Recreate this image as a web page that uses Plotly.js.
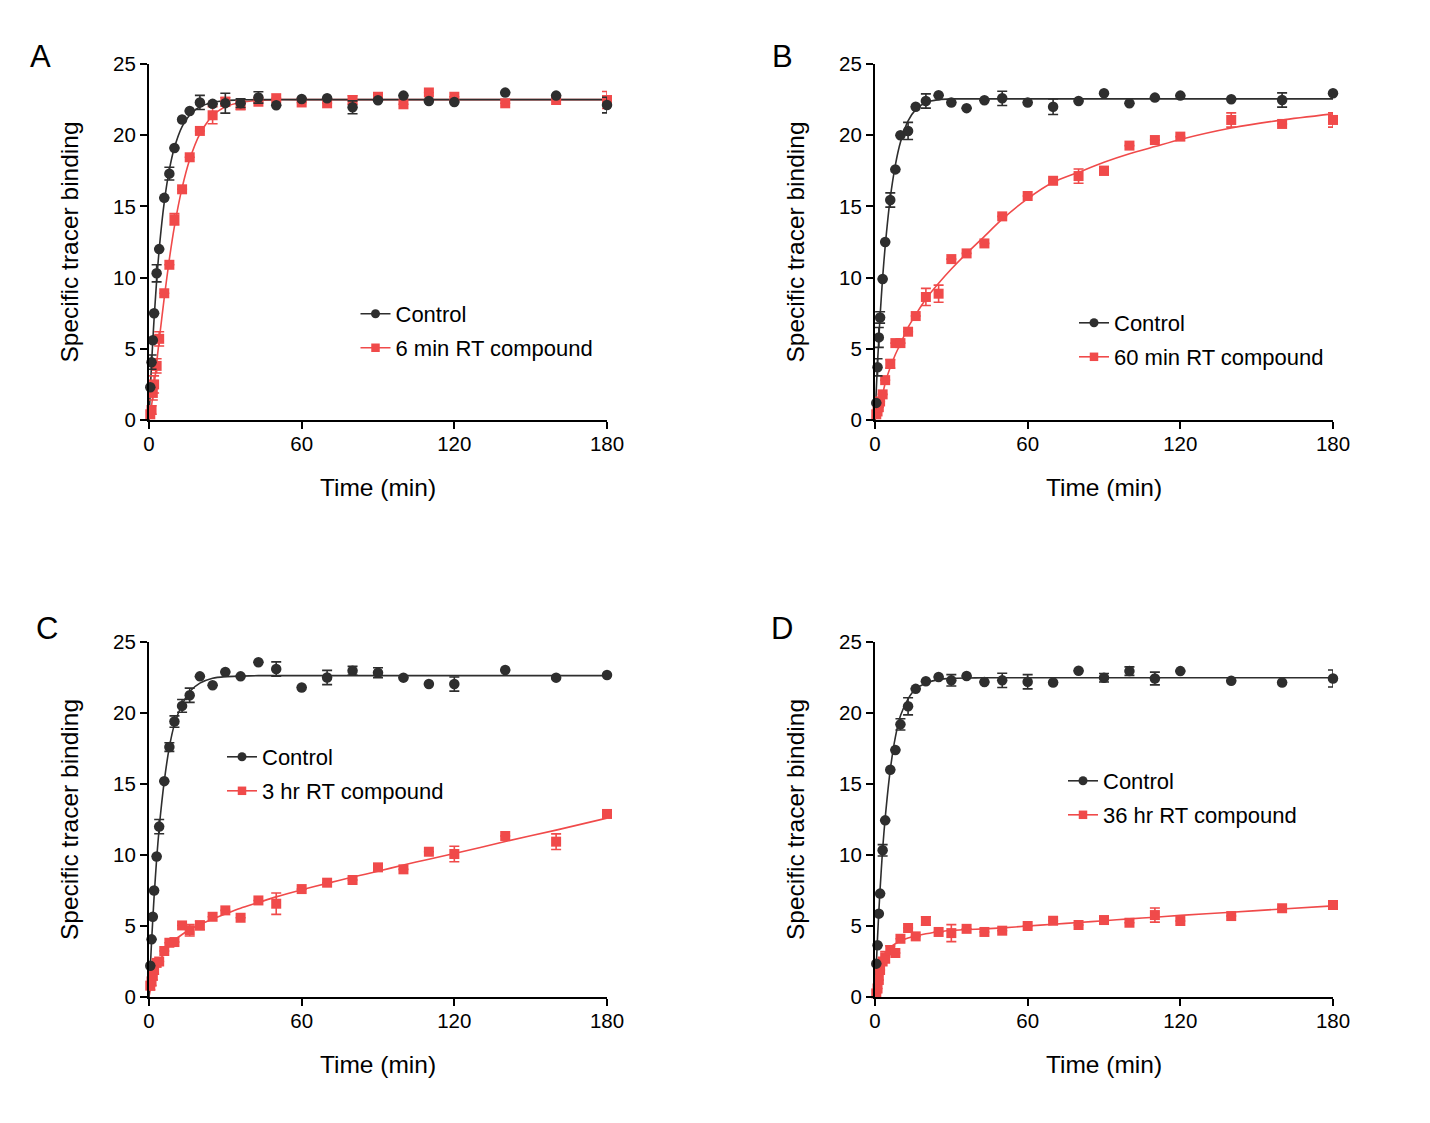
<!DOCTYPE html>
<html>
<head>
<meta charset="utf-8">
<script src="https://cdn.plot.ly/plotly-3.0.1.min.js"></script>
<style>
  html, body { margin: 0; padding: 0; background: #ffffff; }
  #chart { width: 1430px; height: 1123px; }
</style>
</head>
<body>
<div id="chart"></div>
<script>
// ---- Data ----
const TIME = [0.5, 1, 1.5, 2, 3, 4, 6, 8, 10, 13, 16, 20, 25, 30, 36, 43, 50, 60, 70, 80, 90, 100, 110, 120, 140, 160, 180];
const FIT_TIME = [0, 0.5, 1, 1.5, 2, 3, 4, 6, 8, 10, 13, 16, 20, 25, 30, 36, 43, 50, 60, 70, 80, 90, 100, 110, 120, 140, 160, 180];

// Panel A
const CTRL_A = [2.3, 4.06, 5.6, 7.5, 10.3, 12.0, 15.6, 17.3, 19.1, 21.1, 21.7, 22.3, 22.2, 22.25, 22.25, 22.65, 22.1, 22.54, 22.6, 21.96, 22.45, 22.78, 22.4, 22.33, 22.99, 22.78, 22.12];
const CTRL_A_ERR = [0, 0.5, 0, 0, 0.6, 0, 0, 0.45, 0, 0, 0, 0.5, 0, 0.7, 0.3, 0.4, 0, 0, 0, 0.45, 0, 0, 0, 0, 0, 0, 0.55];
const CMPD_A = [0.4, 0.7, 1.9, 2.5, 3.8, 5.7, 8.9, 10.9, 14.1, 16.2, 18.45, 20.3, 21.4, 22.35, 22.1, 22.35, 22.6, 22.3, 22.24, 22.47, 22.7, 22.17, 23.0, 22.7, 22.24, 22.47, 22.47];
const CMPD_A_ERR = [0, 0.3, 0.5, 0.6, 0.5, 0.5, 0, 0, 0.4, 0, 0, 0, 0.6, 0.3, 0.3, 0, 0, 0, 0, 0.3, 0, 0, 0, 0, 0, 0, 0.6];
const FIT_CTRL_A = [0, 2.05, 3.9, 5.58, 7.11, 9.77, 11.98, 15.3, 17.58, 19.13, 20.6, 21.42, 22.0, 22.3, 22.43, 22.48, 22.5, 22.5, 22.5, 22.5, 22.5, 22.5, 22.5, 22.5, 22.5, 22.5, 22.5, 22.5];
const FIT_CMPD_A = [0, 0.5, 1.0, 1.7, 2.4, 4.0, 5.6, 8.6, 11.3, 13.6, 16.3, 18.3, 20.1, 21.4, 22.0, 22.3, 22.45, 22.5, 22.5, 22.5, 22.5, 22.5, 22.5, 22.5, 22.5, 22.5, 22.5, 22.5];

// Panel B
const CTRL_B = [1.2, 3.7, 5.8, 7.2, 9.9, 12.5, 15.45, 17.6, 20.0, 20.3, 22.0, 22.4, 22.8, 22.3, 21.9, 22.45, 22.59, 22.3, 22.0, 22.4, 22.94, 22.24, 22.64, 22.78, 22.52, 22.47, 22.94];
const CTRL_B_ERR = [0, 0.6, 0.7, 0.4, 0, 0, 0.5, 0, 0, 0.6, 0, 0.5, 0, 0, 0, 0, 0.5, 0, 0.55, 0, 0, 0, 0, 0, 0, 0.5, 0];
const CMPD_B = [0.4, 0.6, 0.9, 1.3, 1.8, 2.8, 3.94, 5.4, 5.4, 6.2, 7.3, 8.64, 8.87, 11.3, 11.7, 12.4, 14.3, 15.73, 16.8, 17.13, 17.5, 19.27, 19.66, 19.9, 21.07, 20.79, 21.07];
const CMPD_B_ERR = [0, 0, 0, 0, 0, 0, 0.3, 0, 0, 0, 0, 0.6, 0.6, 0, 0, 0, 0, 0, 0, 0.5, 0.3, 0, 0, 0, 0.5, 0, 0.5];
const FIT_CTRL_B = [0, 2.1, 4.0, 5.7, 7.3, 10.0, 12.2, 15.6, 17.9, 19.5, 21.0, 21.8, 22.3, 22.5, 22.55, 22.55, 22.55, 22.55, 22.55, 22.55, 22.55, 22.55, 22.55, 22.55, 22.55, 22.55, 22.55, 22.55];
const FIT_CMPD_B = [0, 0.3, 0.6, 0.95, 1.25, 1.8, 2.6, 3.7, 4.6, 5.35, 6.5, 7.4, 8.5, 9.6, 10.6, 11.7, 12.9, 14.1, 15.55, 16.7, 17.4, 18.1, 18.7, 19.2, 19.7, 20.5, 21.07, 21.5];

// Panel C
const CTRL_C = [2.2, 4.06, 5.65, 7.5, 9.9, 12.0, 15.2, 17.6, 19.4, 20.5, 21.25, 22.58, 21.95, 22.89, 22.58, 23.57, 23.1, 21.8, 22.5, 22.98, 22.84, 22.49, 22.04, 22.04, 23.03, 22.49, 22.68];
const CTRL_C_ERR = [0, 0, 0, 0, 0, 0.5, 0, 0.3, 0.4, 0.45, 0.5, 0, 0, 0, 0, 0, 0.5, 0, 0.5, 0.3, 0.35, 0, 0, 0.5, 0, 0, 0];
const CMPD_C = [0.8, 1.1, 1.5, 1.9, 2.4, 2.5, 3.24, 3.82, 3.87, 5.04, 4.7, 5.04, 5.65, 6.1, 5.58, 6.8, 6.57, 7.6, 8.05, 8.24, 9.13, 8.99, 10.23, 10.07, 11.34, 10.94, 12.89];
const CMPD_C_ERR = [0.3, 0.3, 0.3, 0.3, 0, 0, 0, 0, 0, 0, 0.4, 0.3, 0, 0, 0, 0, 0.75, 0, 0, 0, 0, 0, 0, 0.55, 0, 0.55, 0];
const FIT_CTRL_C = [0, 2.0, 3.85, 5.5, 7.05, 9.7, 11.9, 15.2, 17.6, 19.2, 20.6, 21.5, 22.1, 22.45, 22.56, 22.6, 22.63, 22.63, 22.63, 22.63, 22.63, 22.63, 22.63, 22.63, 22.63, 22.63, 22.63, 22.63];
const FIT_CMPD_C = [0, 0.5, 0.9, 1.3, 1.6, 2.1, 2.5, 3.1, 3.6, 4.0, 4.4, 4.75, 5.1, 5.5, 5.85, 6.25, 6.65, 7.05, 7.55, 8.0, 8.45, 8.85, 9.3, 9.7, 10.1, 10.95, 11.75, 12.6];

// Panel D
const CTRL_D = [2.35, 3.64, 5.87, 7.28, 10.33, 12.44, 16.0, 17.4, 19.2, 20.47, 21.7, 22.23, 22.54, 22.3, 22.6, 22.18, 22.3, 22.2, 22.15, 22.97, 22.48, 22.95, 22.43, 22.95, 22.27, 22.15, 22.43];
const CTRL_D_ERR = [0, 0, 0, 0, 0.4, 0, 0, 0, 0.4, 0.6, 0, 0, 0, 0.4, 0, 0, 0.5, 0.5, 0, 0, 0.3, 0.3, 0.45, 0, 0, 0, 0.6];
const CMPD_D = [0.25, 0.6, 1.2, 1.9, 2.5, 2.8, 3.3, 3.1, 4.1, 4.86, 4.27, 5.35, 4.58, 4.5, 4.8, 4.58, 4.67, 5.0, 5.37, 5.07, 5.42, 5.23, 5.77, 5.35, 5.70, 6.25, 6.48];
const CMPD_D_ERR = [0, 0, 0, 0, 0, 0.4, 0.3, 0, 0, 0, 0, 0.3, 0, 0.6, 0, 0, 0, 0, 0, 0, 0, 0, 0.5, 0, 0, 0, 0];
const FIT_CTRL_D = [0, 2.2, 4.2, 6.0, 7.6, 10.4, 12.6, 16.0, 18.3, 19.8, 21.0, 21.7, 22.1, 22.35, 22.44, 22.47, 22.48, 22.48, 22.48, 22.48, 22.48, 22.48, 22.48, 22.48, 22.48, 22.48, 22.48, 22.48];
const FIT_CMPD_D = [0, 0.6, 1.1, 1.6, 2.0, 2.6, 3.0, 3.5, 3.75, 3.95, 4.15, 4.3, 4.45, 4.6, 4.68, 4.75, 4.8, 4.87, 5.0, 5.12, 5.25, 5.37, 5.5, 5.62, 5.75, 5.97, 6.2, 6.42];

const PANEL_LETTERS = ['A', 'B', 'C', 'D'];
const CONTROL_NAME = 'Control';
const COMPOUND_NAMES = ['6 min RT compound', '60 min RT compound', '3 hr RT compound', '36 hr RT compound'];
const X_TICKS = [0, 60, 120, 180];
const Y_TICKS = [0, 5, 10, 15, 20, 25];
const X_TITLE = 'Time (min)';
const Y_TITLE = 'Specific tracer binding';

// ---- Styling ----
const FONT = 'Arial, "Liberation Sans", Helvetica, sans-serif';
const BLACK = '#2e2e2e';
const RED = '#f04a4a';
const W = 1430, H = 1123;

const panels = [
  {ctrl: CTRL_A, ctrlErr: CTRL_A_ERR, cmpd: CMPD_A, cmpdErr: CMPD_A_ERR, fitCtrl: FIT_CTRL_A, fitCmpd: FIT_CMPD_A,
   px: [149, 607], py: [64, 420], legendPx: [355.5, 293], letterPx: [40, 56]},
  {ctrl: CTRL_B, ctrlErr: CTRL_B_ERR, cmpd: CMPD_B, cmpdErr: CMPD_B_ERR, fitCtrl: FIT_CTRL_B, fitCmpd: FIT_CMPD_B,
   px: [875, 1333], py: [64, 420], legendPx: [1074, 302], letterPx: [782, 56]},
  {ctrl: CTRL_C, ctrlErr: CTRL_C_ERR, cmpd: CMPD_C, cmpdErr: CMPD_C_ERR, fitCtrl: FIT_CTRL_C, fitCmpd: FIT_CMPD_C,
   px: [149, 607], py: [642, 997], legendPx: [222, 736], letterPx: [47, 628]},
  {ctrl: CTRL_D, ctrlErr: CTRL_D_ERR, cmpd: CMPD_D, cmpdErr: CMPD_D_ERR, fitCtrl: FIT_CTRL_D, fitCmpd: FIT_CMPD_D,
   px: [875, 1333], py: [642, 997], legendPx: [1063, 760], letterPx: [782, 628]}
];

const traces = [];
const layout = {
  width: W, height: H,
  margin: {l: 0, r: 0, t: 0, b: 0},
  paper_bgcolor: '#ffffff', plot_bgcolor: '#ffffff',
  font: {family: FONT, color: '#000000', size: 20},
  showlegend: true,
  annotations: []
};

panels.forEach((p, i) => {
  const n = i + 1;
  const xa = n === 1 ? 'x' : 'x' + n;
  const ya = n === 1 ? 'y' : 'y' + n;
  const xKey = n === 1 ? 'xaxis' : 'xaxis' + n;
  const yKey = n === 1 ? 'yaxis' : 'yaxis' + n;
  const legKey = n === 1 ? 'legend' : 'legend' + n;

  const common = {xaxis: xa, yaxis: ya, cliponaxis: false, hoverinfo: 'x+y'};

  // fitted curves
  traces.push(Object.assign({type: 'scatter', mode: 'lines', x: FIT_TIME, y: p.fitCmpd,
    line: {color: RED, width: 1.6, shape: 'spline', smoothing: 0.6}, showlegend: false, legend: legKey}, common));
  traces.push(Object.assign({type: 'scatter', mode: 'lines', x: FIT_TIME, y: p.fitCtrl,
    line: {color: BLACK, width: 1.6, shape: 'spline', smoothing: 0.6}, showlegend: false, legend: legKey}, common));
  // data points with error bars
  traces.push(Object.assign({type: 'scatter', mode: 'markers', x: TIME, y: p.cmpd,
    marker: {symbol: 'square', size: 10, color: RED},
    error_y: {type: 'data', array: p.cmpdErr, visible: true, color: RED, thickness: 1.6, width: 5},
    showlegend: false, legend: legKey}, common));
  traces.push(Object.assign({type: 'scatter', mode: 'markers', x: TIME, y: p.ctrl,
    marker: {symbol: 'circle', size: 10.5, color: BLACK},
    error_y: {type: 'data', array: p.ctrlErr, visible: true, color: BLACK, thickness: 1.6, width: 5},
    showlegend: false, legend: legKey}, common));
  // legend entries (line + marker symbol)
  traces.push(Object.assign({type: 'scatter', mode: 'lines+markers', x: [null], y: [null], name: CONTROL_NAME,
    line: {color: BLACK, width: 1.6}, marker: {symbol: 'circle', size: 9, color: BLACK},
    legend: legKey, legendgroup: 'ctrl' + n}, common));
  traces.push(Object.assign({type: 'scatter', mode: 'lines+markers', x: [null], y: [null], name: COMPOUND_NAMES[i],
    line: {color: RED, width: 1.6}, marker: {symbol: 'square', size: 8.5, color: RED},
    legend: legKey, legendgroup: 'cmpd' + n}, common));

  layout[xKey] = {
    domain: [p.px[0] / W, p.px[1] / W],
    anchor: ya,
    range: [0, 180],
    tickmode: 'array', tickvals: X_TICKS, ticktext: X_TICKS.map(String),
    ticks: 'outside', ticklen: 7, tickwidth: 2, tickcolor: '#000000',
    showline: true, linecolor: '#000000', linewidth: 2,
    showgrid: false, zeroline: false,
    ticklabelstandoff: -3,
    tickfont: {family: FONT, size: 20.5, color: '#000000'},
    title: {text: X_TITLE, font: {family: FONT, size: 24.5, color: '#000000'}, standoff: 25},
    fixedrange: true
  };
  layout[yKey] = {
    domain: [1 - p.py[1] / H, 1 - p.py[0] / H],
    anchor: xa,
    range: [0, 25],
    tickmode: 'array', tickvals: Y_TICKS, ticktext: Y_TICKS.map(String),
    ticks: 'outside', ticklen: 7, tickwidth: 2, tickcolor: '#000000',
    showline: true, linecolor: '#000000', linewidth: 2,
    showgrid: false, zeroline: false,
    tickfont: {family: FONT, size: 20.5, color: '#000000'},
    title: {text: Y_TITLE, font: {family: FONT, size: 24.5, color: '#000000'}, standoff: 28},
    fixedrange: true
  };
  layout[legKey] = {
    x: p.legendPx[0] / W, y: 1 - p.legendPx[1] / H,
    xanchor: 'left', yanchor: 'top',
    bgcolor: 'rgba(0,0,0,0)', borderwidth: 0,
    font: {family: FONT, size: 22, color: '#000000'},
    tracegroupgap: 2.4
  };
  layout.annotations.push({
    text: PANEL_LETTERS[i], xref: 'paper', yref: 'paper',
    x: p.letterPx[0] / W, y: 1 - p.letterPx[1] / H,
    xanchor: 'center', yanchor: 'middle', showarrow: false,
    font: {family: FONT, size: 31, color: '#000000'}
  });
});

Plotly.newPlot('chart', traces, layout, {displayModeBar: false, staticPlot: false, responsive: false});
</script>
</body>
</html>
